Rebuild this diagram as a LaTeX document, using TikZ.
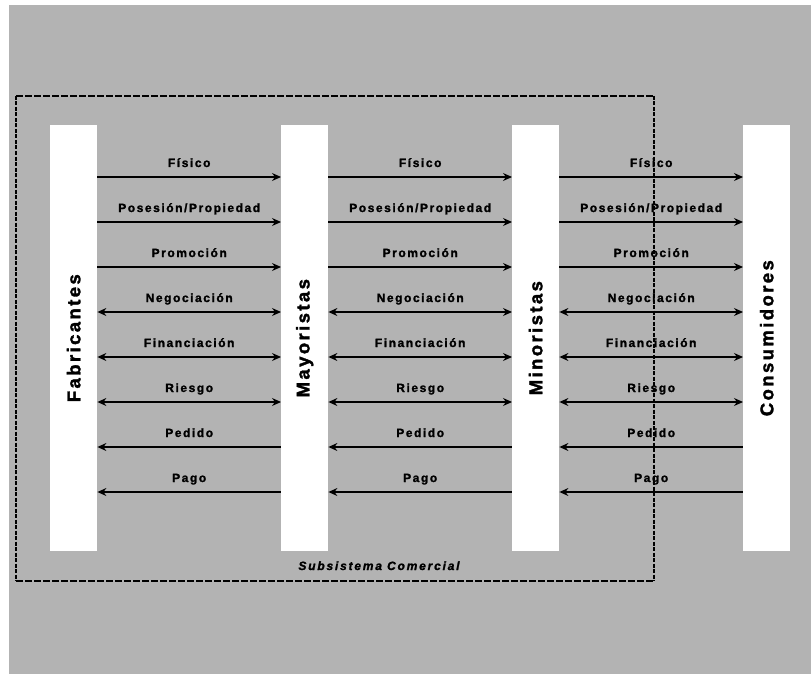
\documentclass[tikz,border=0pt]{standalone}
\usepackage{fontspec}
\usetikzlibrary{arrows.meta}
\setmainfont{Liberation Sans}
\newfontfamily\flowfont[LetterSpace=13,BoldFeatures={FakeBold=1.6}]{Liberation Sans}
\newfontfamily\agentfont[LetterSpace=13,BoldFeatures={FakeBold=1.8}]{Liberation Sans}
\newfontfamily\subfont[LetterSpace=15,BoldItalicFeatures={FakeBold=1.6}]{Liberation Sans}
\definecolor{panelgray}{RGB}{179,179,179}
\begin{document}
\begin{tikzpicture}[x=1pt,y=-1pt,
  agent/.style={fill=white,draw=none,minimum width=47pt,minimum height=426pt,
    inner sep=0pt,anchor=north west},
  agentlabel/.style={rotate=90,font=\agentfont\bfseries\fontsize{18.5}{20}\selectfont},
  flowlabel/.style={font=\flowfont\bfseries\fontsize{12}{14}\selectfont,inner sep=0pt,anchor=base},
  flow/.style={line width=1.1pt,black},
  tipend/.style={-{Stealth[length=9pt,width=8pt,inset=3pt]}},
  tipstart/.style={{Stealth[length=9pt,width=8pt,inset=3pt]}-},
  tipboth/.style={{Stealth[length=9pt,width=8pt,inset=3pt]}-{Stealth[length=9pt,width=8pt,inset=3pt]}},
  edgeh/.style={line width=2pt,dash pattern=on 7pt off 2pt},
  edgev/.style={line width=2pt,dash pattern=on 4pt off 1.5pt}]

\useasboundingbox (0,0) rectangle (811,674);
\fill[panelgray] (9,5) rectangle (811,674);

% the four channel members
\node[agent] (fab) at (50,125) {};
\node[agent] (may) at (281,125) {};
\node[agent] (min) at (512,125) {};
\node[agent] (con) at (743,125) {};

\node[agentlabel] (fabt) at (fab.center) {Fabricantes};
\node[agentlabel] (mayt) at (may.center) {Mayoristas};
\node[agentlabel] (mint) at (min.center) {Minoristas};
\node[agentlabel] (cont) at (con.center) {Consumidores};

% heights of the eight flows
\coordinate (r1) at (0,177);
\coordinate (r2) at (0,222);
\coordinate (r3) at (0,267);
\coordinate (r4) at (0,312);
\coordinate (r5) at (0,357);
\coordinate (r6) at (0,402);
\coordinate (r7) at (0,447);
\coordinate (r8) at (0,492);

\foreach \a/\b in {fab/may,may/min,min/con}{
  \draw[flow,tipend]   (\a.east |- r1) -- node[flowlabel,yshift=10pt] {Físico} (\b.west |- r1);
  \draw[flow,tipend]   (\a.east |- r2) -- node[flowlabel,yshift=10pt] {Posesión/Propiedad} (\b.west |- r2);
  \draw[flow,tipend]   (\a.east |- r3) -- node[flowlabel,yshift=10pt] {Promoción} (\b.west |- r3);
  \draw[flow,tipboth]  (\a.east |- r4) -- node[flowlabel,yshift=10pt] {Negociación} (\b.west |- r4);
  \draw[flow,tipboth]  (\a.east |- r5) -- node[flowlabel,yshift=10pt] {Financiación} (\b.west |- r5);
  \draw[flow,tipboth]  (\a.east |- r6) -- node[flowlabel,yshift=10pt] {Riesgo} (\b.west |- r6);
  \draw[flow,tipstart] (\a.east |- r7) -- node[flowlabel,yshift=10pt] {Pedido} (\b.west |- r7);
  \draw[flow,tipstart] (\a.east |- r8) -- node[flowlabel,yshift=10pt] {Pago} (\b.west |- r8);
}

% commercial subsystem boundary
\coordinate (bnw) at (16,96);
\coordinate (bne) at (654,96);
\coordinate (bse) at (654,581);
\coordinate (bsw) at (16,581);
\draw[edgeh] (bnw) -- (bne);
\draw[edgeh] (bsw) -- (bse);
\draw[edgev] (bnw) -- (bsw);
\draw[edgev] (bne) -- (bse);
\node[font=\subfont\bfseries\itshape\fontsize{12}{14}\selectfont,anchor=base] (sub) at (379,570) {Subsistema Comercial};
\end{tikzpicture}
\end{document}
